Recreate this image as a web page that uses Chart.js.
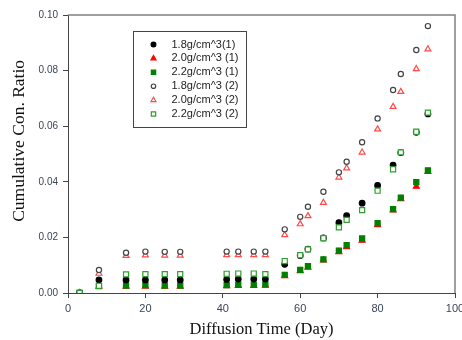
<!DOCTYPE html>
<html>
<head>
<meta charset="utf-8">
<script src="https://cdn.jsdelivr.net/npm/chart.js@4.4.0/dist/chart.umd.min.js"></script>
<style>
  html, body { margin: 0; padding: 0; background: #fff; }
  #wrap { width: 462px; height: 340px; }
</style>
</head>
<body>
<div id="wrap"><canvas id="chart" width="462" height="340"></canvas></div>
<script>
// diffusion time (day)
const days = [3, 8, 15, 20, 25, 29, 41, 44, 48, 51, 56, 60, 62, 66, 70, 72, 76, 80, 84, 86, 90, 93];

// cumulative concentration ratio, test (1)
const d18a = [0, 0.0047, 0.0047, 0.0047, 0.0047, 0.0047, 0.0049, 0.005, 0.005, 0.005, 0.0103, 0.0135, 0.0158, 0.0198, 0.0253, 0.0278, 0.0323, 0.0387, 0.046, 0.0505, 0.0578, 0.0644];
const d20a = [0, 0.0024, 0.0024, 0.0024, 0.0024, 0.0024, 0.0025, 0.0026, 0.0026, 0.0027, 0.0061, 0.0079, 0.0092, 0.0118, 0.0148, 0.0166, 0.0189, 0.0245, 0.0298, 0.0338, 0.0383, 0.0436];
const d22a = [0, 0.0025, 0.0027, 0.0028, 0.0027, 0.0027, 0.0028, 0.003, 0.003, 0.0031, 0.0065, 0.0083, 0.0097, 0.0121, 0.0152, 0.0172, 0.0196, 0.0251, 0.0302, 0.0343, 0.0399, 0.0441];
// test (2)
const d18b = [0, 0.0083, 0.0145, 0.0149, 0.0148, 0.0148, 0.0149, 0.0149, 0.0149, 0.0149, 0.0229, 0.0274, 0.031, 0.0364, 0.0434, 0.0472, 0.0542, 0.0628, 0.073, 0.0788, 0.0874, 0.096];
const d20b = [0, 0.007, 0.0134, 0.0136, 0.0135, 0.0135, 0.0137, 0.0137, 0.0137, 0.0137, 0.0209, 0.0248, 0.0277, 0.0325, 0.0416, 0.0449, 0.0506, 0.0589, 0.067, 0.0724, 0.0806, 0.0877];
const d22b = [0, 0.0026, 0.0067, 0.0068, 0.0068, 0.0068, 0.0069, 0.007, 0.007, 0.0068, 0.0115, 0.0136, 0.0157, 0.0197, 0.0236, 0.0263, 0.0298, 0.0368, 0.0445, 0.0506, 0.058, 0.0649];

const seriesNames = ["1.8g/cm^3(1)", "2.0g/cm^3 (1)", "2.2g/cm^3 (1)", "1.8g/cm^3 (2)", "2.0g/cm^3 (2)", "2.2g/cm^3 (2)"];

const xTicks = [0, 20, 40, 60, 80, 100];
const yTicks = [0, 0.02, 0.04, 0.06, 0.08, 0.10];

const toPoints = (vals) => vals.map((v, i) => ({ x: days[i], y: v }));

// frame on top and right of the plot
const frame = {
  id: 'frame',
  beforeDatasetsDraw(chart) {
    const { ctx, chartArea: a } = chart;
    ctx.save();
    ctx.strokeStyle = '#808080';
    ctx.lineWidth = 1.5;
    ctx.beginPath();
    ctx.moveTo(a.left, a.top);
    ctx.lineTo(a.right, a.top);
    ctx.lineTo(a.right, a.bottom);
    ctx.stroke();
    ctx.restore();
  }
};

// legend box drawn inside the plot, upper left
const legendBox = {
  id: 'legendBox',
  afterDatasetsDraw(chart) {
    const { ctx, chartArea: a } = chart;
    const bx = Math.round(a.left + 65) + 0.5;
    const by = Math.round(a.top + 16) + 0.5;
    ctx.save();
    ctx.fillStyle = '#fff';
    ctx.fillRect(bx, by, 113, 96);
    ctx.strokeStyle = '#444';
    ctx.lineWidth = 1;
    ctx.strokeRect(bx, by, 113, 96);
    ctx.font = '11px "Liberation Sans", Arial, sans-serif';
    ctx.textBaseline = 'middle';
    chart.data.datasets.forEach((ds, i) => {
      const cy = by + 13 + i * 13.9;
      ctx.fillStyle = ds.backgroundColor;
      ctx.strokeStyle = ds.borderColor;
      ctx.lineWidth = ds.borderWidth;
      Chart.helpers.drawPoint(ctx, {
        pointStyle: ds.pointStyle,
        radius: ds.pointRadius * 0.85,
        rotation: 0,
        borderWidth: ds.borderWidth
      }, bx + 20, cy);
      ctx.fillStyle = '#222';
      ctx.fillText(ds.label, bx + 38, cy);
    });
    ctx.restore();
  }
};

const mk = (label, data, style, fill, stroke, radius, order) => ({
  label: label,
  data: toPoints(data),
  pointStyle: style,
  backgroundColor: fill,
  borderColor: stroke,
  borderWidth: 1.2,
  pointRadius: radius,
  pointHoverRadius: radius,
  showLine: false,
  order: order
});

new Chart(document.getElementById('chart'), {
  type: 'scatter',
  data: {
    datasets: [
      mk(seriesNames[0], d18a, 'circle', '#000000', '#000000', 2.8, 4),
      mk(seriesNames[1], d20a, 'triangle', '#ff0000', '#ff0000', 3.4, 6),
      mk(seriesNames[2], d22a, 'rect', '#008000', '#008000', 3.6, 5),
      mk(seriesNames[3], d18b, 'circle', '#ffffff', '#444444', 2.6, 2),
      mk(seriesNames[4], d20b, 'triangle', '#ffffff', '#ff4a4a', 3.4, 3),
      mk(seriesNames[5], d22b, 'rect', '#ffffff', '#2e9e2e', 3.6, 1)
    ]
  },
  options: {
    responsive: false,
    animation: false,
    events: [],
    layout: { padding: { top: 15, right: 7, left: 0, bottom: 0 } },
    plugins: {
      legend: { display: false },
      tooltip: { enabled: false }
    },
    scales: {
      x: {
        type: 'linear',
        min: 0,
        max: 100,
        afterBuildTicks: (s) => { s.ticks = xTicks.map(v => ({ value: v })); },
        afterFit: (s) => { s.height = 47; s.paddingLeft = 0; s.paddingRight = 0; },
        grid: { drawOnChartArea: false, drawTicks: true, tickLength: 5, color: '#444' },
        border: { color: '#444', width: 1 },
        ticks: {
          padding: 4,
          color: '#3b4558',
          font: { family: '"Liberation Sans", Arial, sans-serif', size: 11 }
        },
        title: {
          display: true,
          text: 'Diffusion Time (Day)',
          color: '#111',
          padding: { top: 0, bottom: 0 },
          font: { family: '"Liberation Serif", "Times New Roman", serif', size: 16.5 }
        }
      },
      y: {
        type: 'linear',
        min: 0,
        max: 0.1,
        afterBuildTicks: (s) => { s.ticks = yTicks.map(v => ({ value: v })); },
        afterFit: (s) => { s.width = 68; },
        grid: { drawOnChartArea: false, drawTicks: true, tickLength: 5, color: '#444' },
        border: { color: '#444', width: 1 },
        ticks: {
          padding: 5,
          color: '#3b4558',
          font: { family: '"Liberation Sans", Arial, sans-serif', size: 10 },
          callback: (v) => v.toFixed(2)
        },
        title: {
          display: true,
          // leading en spaces lift the title a little above the axis centre, as in the original
          text: '\u2002\u2002\u2002Cumulative Con. Ratio',
          color: '#111',
          padding: { top: 9, bottom: 0 },
          font: { family: '"Liberation Serif", "Times New Roman", serif', size: 17.5 }
        }
      }
    }
  },
  plugins: [frame, legendBox]
});
</script>
</body>
</html>
